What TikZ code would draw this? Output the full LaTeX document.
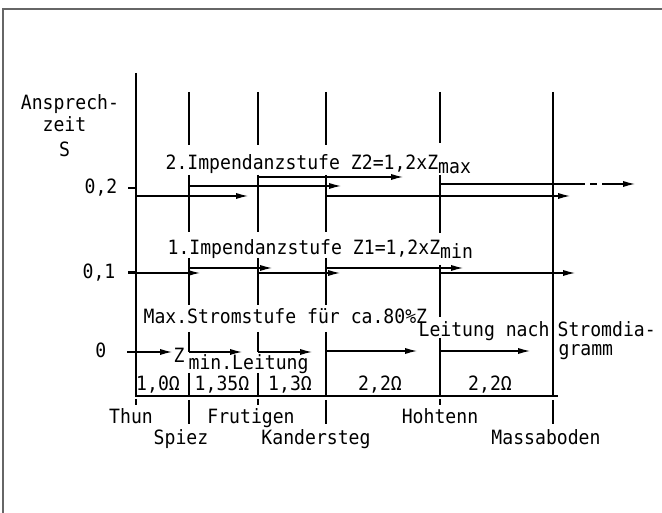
\documentclass[tikz,border=0pt]{standalone}
\usepackage{fontspec}
\setmainfont[FakeStretch=0.92]{DejaVu Sans Mono}
\usetikzlibrary{arrows.meta}
\newcommand{\low}[1]{\raisebox{-0.1cm}{#1}}

\begin{document}
\begin{tikzpicture}[x=0.025cm,y=0.025cm,line width=0.85pt,
		every node/.style={inner sep=0pt,font=\fontsize{14}{16}\selectfont},
		stufe/.style={-{Latex[length=8.5pt,width=4.4pt]}}]
		\useasboundingbox (0,0) rectangle (662,512);
		% frame
		\draw[line width=1.4pt,black!60] (3,-10) -- (3,503) -- (675,503);
		% axis, base line and station lines
		\draw (136,439) -- (136,116) -- (558,116);
		\draw (553,420) -- (553,116);
		\foreach \x in {189,258}
			\draw (\x,420) -- (\x,367) (\x,337) -- (\x,280) (\x,254) -- (\x,207) (\x,180) -- (\x,160) (\x,139) -- (\x,116);
		\draw (326,420) -- (326,367) (326,337) -- (326,280) (326,254) -- (326,207) (326,180) -- (326,116);
		\draw (440,420) -- (440,369) (440,337) -- (440,279) (440,247) -- (440,195) (440,174) -- (440,116);
		% ticks
		\draw (128,324) -- (136,324) (128,240) -- (136,240);
		\foreach \x in {136,258,440}
			\draw (\x,113) -- (\x,107);
		\foreach \x in {189,326,553}
			\draw (\x,112) -- (\x,88);
		% y axis
		\node[anchor=base] (ylab1) at (64.5,402) {Ansprech\rlap{-}};
		\node[anchor=base] (ylab2) at (64.5,380) {zeit};
		\node[anchor=base] (ylab3) at (64.5,355) {S};
		\node[anchor=base east] (t02) at (118,318) {0,2};
		\node[anchor=base east] (t01) at (116,233) {0,1};
		\node[anchor=base east] (t00) at (107,154) {0};
		% stages
		\node[anchor=base west] (imp2) at (165,342) {2.Impendanzstufe Z2=1,2xZ\low{max}};
		\node[anchor=base west] (imp1) at (167,257) {1.Impendanzstufe Z1=1,2xZ\low{min}};
		\node[anchor=base west] (strom) at (143,188) {Max.Stromstufe für ca.80\%Z};
		\node[anchor=base west] (leit) at (418,175) {Leitung nach};
		\node[anchor=base west] (diag1) at (557,175) {Stromdia-};
		\node[anchor=base west] (diag2) at (558,156) {gramm};
		\node[anchor=base west] (zmin) at (173,149) {Z};
		\node[anchor=base west] (zmin2) at (188,142) {min.Leitung};
		% 0,2
		\draw[stufe] (136,316) -- (248,316);
		\draw[stufe] (189,326) -- (341,326);
		\draw[stufe] (258,335) -- (403,335);
		\draw[stufe] (326,316) -- (570,316);
		\draw (440,328) -- (585,328) (590,328) -- (597,328);
		\draw[stufe] (602,328) -- (635,328);
		% 0,1
		\draw[stufe] (128,239) -- (200,239);
		\draw[stufe] (189,244) -- (272,244);
		\draw[stufe] (258,239) -- (340,239);
		\draw[stufe] (326,244) -- (463,244);
		\draw[stufe] (440,239) -- (575,239);
		% 0
		\draw[stufe] (127,160) -- (172,160);
		\draw[stufe] (189,160) -- (242,160);
		\draw[stufe] (258,160) -- (312,160);
		\draw[stufe] (326,161) -- (417,161);
		\draw[stufe] (440,161) -- (530,161);
		% line resistances
		\node[anchor=base] (r1) at (158,121) {1,0Ω};
		\node[anchor=base] (r2) at (222,121) {1,35Ω};
		\node[anchor=base] (r3) at (290,121) {1,3Ω};
		\node[anchor=base] (r4) at (380,121) {2,2Ω};
		\node[anchor=base] (r5) at (490,121) {2,2Ω};
		% stations
		\node[anchor=base] (thun) at (131,89) {Thun};
		\node[anchor=base] (frutigen) at (251,89) {Frutigen};
		\node[anchor=base] (hohtenn) at (440,89) {Hohtenn};
		\node[anchor=base] (spiez) at (181,67) {Spiez};
		\node[anchor=base] (kandersteg) at (316,67) {Kandersteg};
		\node[anchor=base] (massaboden) at (546,67) {Massaboden};
	\end{tikzpicture}
\end{document}
